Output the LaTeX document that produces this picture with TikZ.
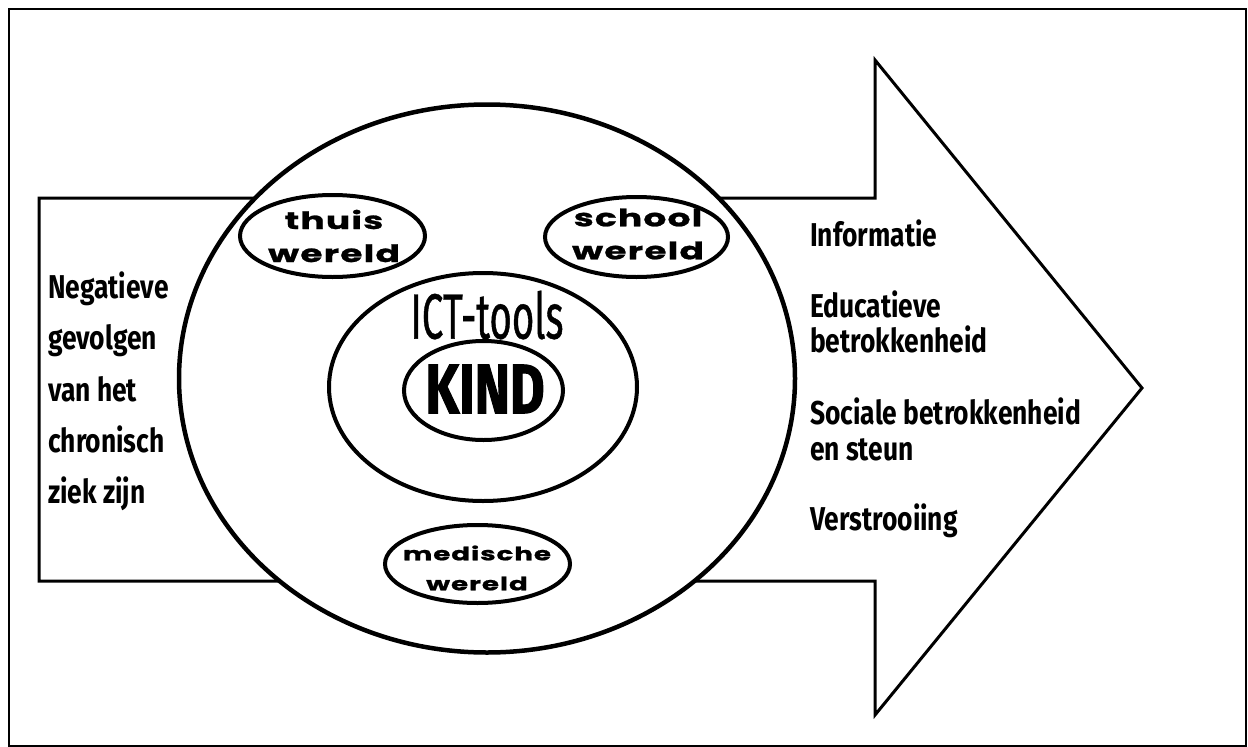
\documentclass[tikz,border=0pt]{standalone}
\usepackage{fontspec}
\usetikzlibrary{shapes.geometric}
\newfontfamily\agency[FakeStretch=0.8]{Fira Sans}
\newfontfamily\agencynarrow[FakeStretch=0.6,FakeBold=0.6]{Fira Sans}
\newfontfamily\kindfont[FakeStretch=0.76,FakeBold=1.5]{Fira Sans}
\newfontfamily\widefont[FakeStretch=1.5,LetterSpace=5,FakeBold=1]{Poppins}
\tikzset{
  frame/.style={line width=2pt},
  arrowshape/.style={line width=3pt,line join=miter},
  ell/.style={ellipse,draw,fill=white,line width=4pt,inner sep=0pt},
  worldtext/.style={align=center,inner sep=0pt,font=\widefont\bfseries\fontsize{24}{33}\selectfont},
  sidetext/.style={anchor=base west,inner sep=0pt,font=\agency\bfseries\fontsize{33}{36}\selectfont}
}
\begin{document}
\begin{tikzpicture}[x=1pt,y=-1pt]
\useasboundingbox (0,0) rectangle (1248,747);
\draw[frame] (9,9) rectangle (1246,746);
% big arrow
\draw[arrowshape] (39,198) -- (875,198) -- (875,60) -- (1142,388) -- (875,715) -- (875,581) -- (39,581) -- cycle;
% ellipses
\node[ell,line width=4.5pt,minimum width=616pt,minimum height=548pt] (world) at (487,378.5) {};
\node[ell,minimum width=185pt,minimum height=82pt] (thuis) at (332.5,236) {};
\node[ell,minimum width=183pt,minimum height=80pt] (school) at (636.5,237) {};
\node[ell,minimum width=185pt,minimum height=78pt] (medisch) at (477.5,564) {};
\node[ell,minimum width=308pt,minimum height=228pt] (ict) at (483,387) {};
\node[ell,minimum width=159pt,minimum height=99pt] (kind) at (483.5,390.5) {};
% texts in ellipses
\node[worldtext] (thuistxt) at (334,236) {thuis\\wereld};
\node[worldtext] (schooltxt) at (638,234) {school\\wereld};
\node[worldtext,font=\widefont\bfseries\fontsize{18.5}{30}\selectfont] (medtxt) at (477,568) {medische\\wereld};
\node[inner sep=0pt,font=\agencynarrow\fontsize{64}{64}\selectfont] (icttxt) at (487,315) {ICT-tools};
\node[inner sep=0pt,font=\kindfont\bfseries\fontsize{70}{70}\selectfont] (kindtxt) at (485,389) {KIND};
% left texts
\node[sidetext] (l1) at (48,298) {Negatieve};
\node[sidetext] (l2) at (48,349) {gevolgen};
\node[sidetext] (l3) at (48,401) {van het};
\node[sidetext] (l4) at (48,452) {chronisch};
\node[sidetext] (l5) at (48,503) {ziek zijn};
% right texts
\node[sidetext] (r1) at (810,246) {Informatie};
\node[sidetext] (r2) at (810,317) {Educatieve};
\node[sidetext] (r3) at (810,352) {betrokkenheid};
\node[sidetext] (r4) at (810,424) {Sociale betrokkenheid};
\node[sidetext] (r5) at (810,460) {en steun};
\node[sidetext] (r6) at (810,530) {Verstrooiing};
\end{tikzpicture}
\end{document}
